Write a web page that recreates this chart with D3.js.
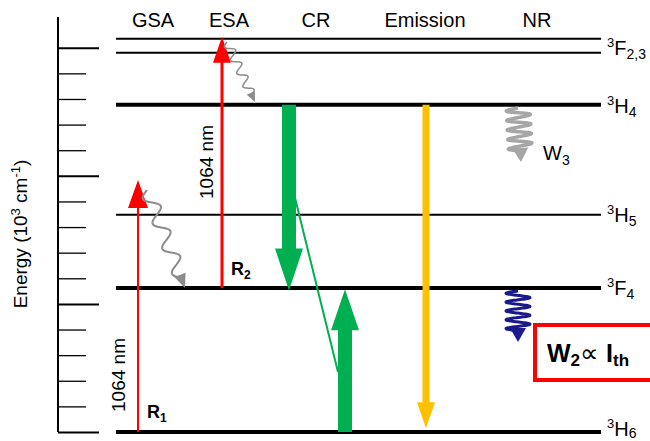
<!DOCTYPE html>
<html><head><meta charset="utf-8">
<script src="https://cdn.jsdelivr.net/npm/d3@7/dist/d3.min.js"></script>
<style>body{margin:0;background:#fff}svg{display:block;font-family:"Liberation Sans",Arial,sans-serif}</style>
</head><body><svg id="c" width="650" height="441"></svg>
<script>
// ---- data ----
const levelNames = ["3H6","3F4","3H5","3H4","3F3","3F2"];
const levelEnergies = [0, 5.62, 8.48, 12.77, 14.8, 15.35]; // 10^3 cm^-1
const levelThick = [true, true, false, true, false, false];
const columns = ["GSA","ESA","CR","Emission","NR"];
const tickValues = d3.range(0, 16, 1);
const gsaEnergies = [0, 9.84];      // ground-state absorption
const esaEnergies = [5.62, 15.43];  // excited-state absorption
const crDown = [12.77, 5.62];
const crUp = [0, 5.62];
const emission = [12.77, 0];

const svg = d3.select("#c");
const y = d3.scaleLinear().domain([0, 16.2]).range([432, 17]);
const colX = d3.scaleOrdinal().domain(columns).range([153, 229, 316, 425, 537]);

// axis
const ax = svg.append("g").attr("transform","translate(58,0)")
  .call(d3.axisRight(y).tickValues(tickValues).tickSize(28).tickFormat(""));
ax.select(".domain").attr("d", `M0,${y(16.2)}V${y(0)}`).attr("stroke","#000").attr("stroke-width",2);
ax.selectAll(".tick line").attr("stroke","#000")
  .attr("x2", d => d % 5 === 0 ? 41 : 28)
  .attr("stroke-width", d => d % 5 === 0 ? 2 : 1.3);

// y title
svg.append("text").attr("transform","translate(27,234) rotate(-90)")
  .attr("text-anchor","middle").attr("font-size",19)
  .html('Energy (10<tspan dy="-7" font-size="13">3</tspan><tspan dy="7"> cm</tspan><tspan dy="-7" font-size="13">-1</tspan><tspan dy="7">)</tspan>');

// column headers
svg.selectAll(".col").data(columns).join("text")
  .attr("x", d => colX(d)).attr("y", 27).attr("text-anchor","middle")
  .attr("font-size",20).text(d => d);

// levels
svg.selectAll(".lev").data(levelEnergies).join("line")
  .attr("x1",116).attr("x2",601).attr("y1", d => y(d)).attr("y2", d => y(d))
  .attr("stroke","#000").attr("stroke-width",(d,i) => levelThick[i] ? 4 : 2);

// level labels
function levLabel(e, main, sub, dyOff, subDy){
  const t = svg.append("text").attr("x",607).attr("y", y(e)+dyOff).attr("font-size",20);
  t.append("tspan").attr("font-size",13).attr("dy",-8).text("3");
  t.append("tspan").attr("dy",8).text(main);
  t.append("tspan").attr("font-size",14).attr("dy",subDy).text(sub);
}
levLabel(levelEnergies[0],"H","6",4,2);
levLabel(levelEnergies[1],"F","4",7,4);
levLabel(levelEnergies[2],"H","5",7,4);
levLabel(levelEnergies[3],"H","4",8,4);
levLabel((levelEnergies[4]+levelEnergies[5])/2,"F","2,3",9,4);

// block arrow
function blockArrow(x, e0, e1, shaftW, headW, headL, color){
  const y0 = y(e0), y1 = y(e1), dir = y1 < y0 ? -1 : 1;
  const yb = y1 - dir*headL;
  const p = [[x-shaftW/2,y0],[x-shaftW/2,yb],[x-headW/2,yb],[x,y1],[x+headW/2,yb],[x+shaftW/2,yb],[x+shaftW/2,y0]];
  svg.append("path").attr("d", d3.line()(p)+"Z").attr("fill",color);
}
// red GSA / ESA arrows
blockArrow(138, gsaEnergies[0], gsaEnergies[1], 2, 20, 28, "#ff0000");
blockArrow(222, esaEnergies[0], esaEnergies[1], 3, 18, 26, "#ff0000");
// CR
blockArrow(289, crDown[0], crDown[1]-0.1, 14, 28, 42, "#00b050");
blockArrow(345, crUp[0], crUp[1]-0.05, 14, 28, 41, "#00b050");
svg.append("line").attr("x1",294).attr("y1",y(9.3)).attr("x2",338).attr("y2",y(2.34))
  .attr("stroke","#00b050").attr("stroke-width",2);
// emission
blockArrow(426, emission[0], emission[1]+0.15, 7, 18, 26, "#ffc000");

// wavy arrows
function wavy(p0, p1, amp, cycles, color, w, headL, headW){
  const dx = p1[0]-p0[0], dy = p1[1]-p0[1], L = Math.hypot(dx,dy);
  const ux = dx/L, uy = dy/L, nx = -uy, ny = ux;
  const Ls = L - headL*0.8;
  const pts = d3.range(0, 201).map(i => {
    const t = i/200, s = t*Ls, o = amp*Math.sin(t*cycles*2*Math.PI);
    return [p0[0]+ux*s+nx*o, p0[1]+uy*s+ny*o];
  });
  svg.append("path").attr("d", d3.line().curve(d3.curveBasis)(pts)).attr("fill","none")
    .attr("stroke",color).attr("stroke-width",w);
  const bx = p1[0]-ux*headL, by = p1[1]-uy*headL;
  svg.append("path").attr("d", d3.line()([[bx+nx*headW/2,by+ny*headW/2],[p1[0],p1[1]],[bx-nx*headW/2,by-ny*headW/2]])+"Z")
    .attr("fill",color);
}
wavy([147,190],[185,288], 7, 3.5, "#8c8c8c", 2, 14, 12);
wavy([227,42],[255,102], 4.5, 4, "#8c8c8c", 1.5, 10, 9);
wavy([518,108],[521,162], 12, 4.5, "#a6a6a6", 3.5, 14, 16);
wavy([518,291],[518,342], 12, 4.5, "#1a1a8c", 3, 14, 16);

// text labels
svg.append("text").attr("transform","translate(125,375) rotate(-90)").attr("text-anchor","middle")
  .attr("font-size",19).text("1064 nm");
svg.append("text").attr("transform","translate(213,162) rotate(-90)").attr("text-anchor","middle")
  .attr("font-size",19).text("1064 nm");
svg.append("text").attr("x",147).attr("y",418).attr("font-size",18).attr("font-weight","bold")
  .html('R<tspan font-size="12" dy="4">1</tspan>');
svg.append("text").attr("x",231).attr("y",275).attr("font-size",18).attr("font-weight","bold")
  .html('R<tspan font-size="12" dy="4">2</tspan>');
svg.append("text").attr("x",543).attr("y",160).attr("font-size",20)
  .html('W<tspan font-size="14" dy="5">3</tspan>');

// box
svg.append("rect").attr("x",535).attr("y",325).attr("width",140).attr("height",55)
  .attr("fill","#fff").attr("stroke","#ff0000").attr("stroke-width",4);
svg.append("text").attr("x",547).attr("y",362).attr("font-size",25).attr("font-weight","bold")
  .html('W<tspan font-size="17" dy="4">2</tspan><tspan dy="-4" font-weight="normal" font-size="26">∝</tspan><tspan> I</tspan><tspan font-size="17" dy="4">th</tspan>');
</script></body></html>
